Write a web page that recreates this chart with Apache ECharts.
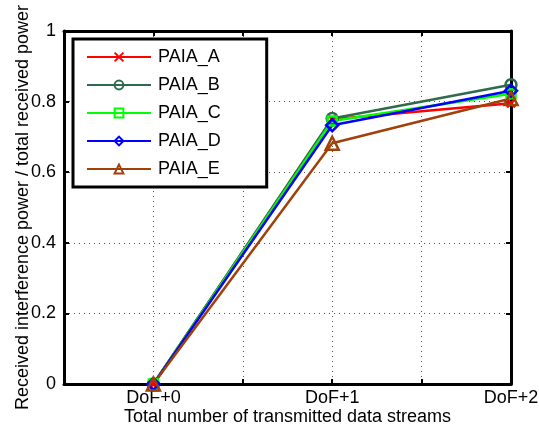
<!DOCTYPE html>
<html>
<head>
<meta charset="utf-8">
<script src="https://cdn.jsdelivr.net/npm/echarts@6/dist/echarts.min.js"></script>
<style>
  html, body { margin: 0; padding: 0; background: #fff; }
  #chart { width: 539px; height: 429px; }
</style>
</head>
<body>
<div id="chart"></div>
<script>
// Stream counts on the x axis (DoF offsets) and their tick labels
const streamOffsets = [0, 1, 2];
const tickLabels = { '0': 'DoF+0', '1': 'DoF+1', '2': 'DoF+2' };

// Interference-to-total received power ratio per scheme
const paiaA = [0, 0.750, 0.795];
const paiaB = [0, 0.752, 0.848];
const paiaC = [0, 0.745, 0.822];
const paiaD = [0, 0.733, 0.831];
const paiaE = [0, 0.682, 0.809];

const seriesNames = ['PAIA_A', 'PAIA_B', 'PAIA_C', 'PAIA_D', 'PAIA_E'];
const seriesData = [paiaA, paiaB, paiaC, paiaD, paiaE];
const colors = ['#ff0000', '#2f6a4c', '#00ff00', '#0000ff', '#a0400a'];
const symbols = [
  'path://M0,0L10,10M10,0L0,10',
  'circle',
  'rect',
  'diamond',
  'triangle'
];
const symbolSizes = [8, 11, 9, 12, 13];

const FONT = 'Liberation Sans, Arial, Helvetica, sans-serif';
const FS = 18;

const chart = echarts.init(document.getElementById('chart'));

const series = seriesNames.map((name, i) => ({
  name: name,
  type: 'line',
  data: streamOffsets.map((x, j) => [x, seriesData[i][j]]),
  symbol: symbols[i],
  symbolSize: symbolSizes[i],
  showAllSymbol: true,
  lineStyle: { color: colors[i], width: 2.5 },
  itemStyle: {
    color: i === 0 ? 'none' : 'rgba(255,255,255,0)',
    borderColor: colors[i],
    borderWidth: 2.5
  },
  emphasis: { disabled: true },
  animation: false,
  z: 3
}));

const dotted = { show: true, lineStyle: { color: '#555', width: 1, type: [1, 4] } };
const frameLine = { show: true, onZero: false, lineStyle: { color: '#000', width: 3 } };
const tick = { show: true, inside: true, length: 5, lineStyle: { color: '#000', width: 2 } };

chart.setOption({
  animation: false,
  grid: {
    left: 64, right: 28, top: 31, bottom: 45,
    show: false,
    containLabel: false,
    outerBoundsMode: 'none'
  },
  legend: {
    orient: 'vertical',
    left: 73,
    top: 39,
    backgroundColor: '#fff',
    borderColor: '#000',
    borderWidth: 3,
    borderRadius: 0,
    padding: [9, 46, 9, 13],
    itemWidth: 64,
    itemHeight: 11,
    itemGap: 10,
    data: seriesNames,
    textStyle: { fontFamily: FONT, fontSize: FS, color: '#000', padding: [0, 0, 0, 2] }
  },
  xAxis: [{
    type: 'value',
    min: -0.5,
    max: 2,
    interval: 0.5,
    name: 'Total number of transmitted data streams',
    nameLocation: 'middle',
    nameGap: 24,
    nameMoveOverlap: false,
    nameTextStyle: { fontFamily: FONT, fontSize: FS, color: '#000', verticalAlign: 'top' },
    axisLine: frameLine,
    axisTick: tick,
    axisLabel: {
      fontFamily: FONT, fontSize: FS, color: '#000', margin: 5,
      showMinLabel: true, showMaxLabel: true,
      formatter: v => tickLabels[String(v)] || ''
    },
    splitLine: dotted
  }, {
    type: 'value',
    position: 'top',
    min: -0.5,
    max: 2,
    interval: 0.5,
    axisLine: frameLine,
    axisTick: tick,
    axisLabel: { show: false },
    splitLine: { show: false }
  }],
  yAxis: [{
    type: 'value',
    min: 0,
    max: 1,
    interval: 0.2,
    name: 'Received interference power / total received power',
    nameLocation: 'middle',
    nameGap: 32,
    nameMoveOverlap: false,
    nameTextStyle: { fontFamily: FONT, fontSize: FS, color: '#000' },
    axisLine: frameLine,
    axisTick: tick,
    axisLabel: {
      fontFamily: FONT, fontSize: FS, color: '#000', margin: 8,
      formatter: v => (v === 0 || v === 1) ? String(v) : v.toFixed(1)
    },
    splitLine: dotted
  }, {
    type: 'value',
    position: 'right',
    min: 0,
    max: 1,
    interval: 0.2,
    axisLine: frameLine,
    axisTick: tick,
    axisLabel: { show: false },
    splitLine: { show: false }
  }],
  series: series
});
</script>
</body>
</html>
